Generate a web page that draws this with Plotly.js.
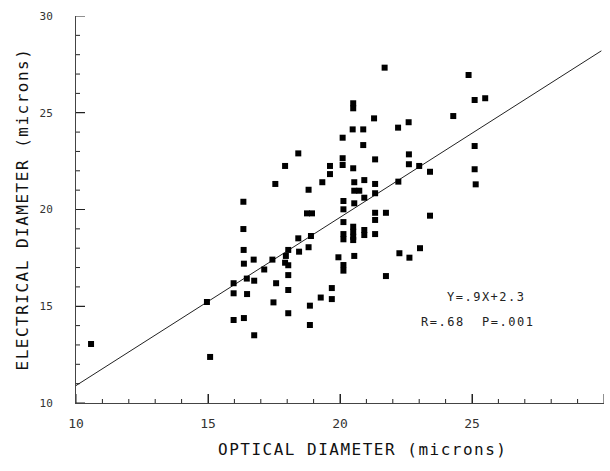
<!DOCTYPE html>
<html>
<head>
<meta charset="utf-8">
<script src="https://cdn.plot.ly/plotly-3.0.1.min.js"></script>
<style>
html,body{margin:0;padding:0;background:#fff;}
#chart{width:610px;height:471px;}
.annotation-text{letter-spacing:1.5px;}
</style>
</head>
<body>
<div id="chart"></div>
<script>
// Optical diameter (microns) of each sample
const opticalDiameter = [
  10.57, 14.96, 15.08, 15.97, 15.97, 15.97, 16.34, 16.34, 16.35, 16.36,
  16.47, 16.48, 16.36, 16.73, 16.75, 16.75, 17.13, 17.44, 17.48, 17.55,
  17.58, 17.92, 17.95, 17.92, 18.04, 18.04, 18.04, 18.04, 18.04, 18.42,
  18.42, 18.45, 18.81, 18.81, 18.75, 18.94, 18.90, 18.86, 18.86, 19.27,
  19.33, 19.62, 19.62, 19.69, 19.69, 19.94, 20.10, 20.10, 20.10, 20.13,
  20.13, 20.13, 20.13, 20.13, 20.13, 20.13, 20.50, 20.50, 20.48, 20.88,
  20.88, 20.50, 20.54, 20.54, 20.73, 20.54, 20.50, 20.50, 20.50, 20.50,
  20.54, 20.92, 20.92, 20.92, 20.92, 21.29, 21.33, 21.33, 21.33, 21.33,
  21.33, 21.33, 21.69, 21.74, 21.74, 22.20, 22.60, 22.21, 22.25, 22.61,
  22.61, 22.63, 23.00, 23.03, 23.41, 23.41, 24.29, 24.87, 25.10, 25.50,
  25.10, 25.10, 25.14
];
// Electrical diameter (microns) of each sample
const electricalDiameter = [
  13.05, 15.22, 12.38, 16.19, 15.67, 14.29, 20.40, 18.99, 17.91, 17.20,
  16.43, 15.63, 14.39, 17.41, 16.32, 13.50, 16.90, 17.41, 15.20, 21.32,
  16.19, 22.25, 17.60, 17.25, 17.91, 17.12, 16.61, 15.84, 14.64, 22.90,
  18.51, 17.82, 21.02, 18.05, 19.80, 19.80, 18.63, 15.03, 14.03, 15.45,
  21.41, 22.25, 21.83, 15.94, 15.37, 17.53, 23.71, 22.65, 22.30, 20.44,
  20.01, 19.35, 18.73, 18.46, 17.13, 16.84, 25.49, 25.23, 24.14, 24.14,
  23.33, 22.13, 21.41, 20.97, 20.97, 20.32, 19.11, 18.85, 18.59, 18.42,
  17.60, 21.52, 20.61, 18.94, 18.68, 24.71, 22.59, 21.32, 20.84, 19.83,
  19.46, 18.73, 27.33, 19.83, 16.56, 24.23, 24.51, 21.44, 17.74, 22.85,
  22.34, 17.51, 22.25, 18.00, 21.95, 19.68, 24.83, 26.95, 25.66, 25.75,
  23.28, 22.08, 21.30
];
// Fitted regression line, as drawn (end points)
const fitX = [10, 29.9];
const fitY = [10.9, 28.2];

// Major tick values / labels
const xTickVals = [10, 15, 20, 25, 30];
const xTickText = ["10", "15", "20", "25", "30"];
const yTickVals = [10, 15, 20, 25, 30];
const yTickText = ["10", "15", "20", "25", "30"];
const minorStep = 1;

const xTitle = "OPTICAL DIAMETER (microns)";
const yTitle = "ELECTRICAL DIAMETER (microns)";
const eqText = "Y=.9X+2.3";
const statText = "R=.68  P=.001";

const mono = "DejaVu Sans Mono, monospace";

const traces = [
  {
    x: fitX, y: fitY, type: "scatter", mode: "lines",
    line: {color: "#222", width: 1},
    hoverinfo: "skip", showlegend: false
  },
  {
    x: opticalDiameter, y: electricalDiameter, type: "scatter", mode: "markers",
    marker: {symbol: "square", size: 6, color: "#000", line: {width: 0}},
    showlegend: false
  }
];

function axisFor(vals, labels, fontSize, standoff) {
  return {
    range: [vals[0], vals[vals.length - 1]],
    showgrid: false, zeroline: false, showline: true,
    ticks: "inside", ticklen: 9, tickcolor: "#222", tickwidth: 1,
    tickmode: "array", tickvals: vals, ticktext: labels,
    tickfont: {family: mono, size: fontSize, color: "#333"},
    ticklabelstandoff: standoff
  };
}

// Tick marks along each axis, placed on the axis scale (drawn in case the
// axis' own inside ticks are hidden)
function minorVals(vals) {
  const out = [];
  for (let v = vals[0] + minorStep; v < vals[vals.length - 1]; v += minorStep) {
    if (vals.indexOf(v) < 0) out.push(v);
  }
  return out;
}
const tickShapes = [];
function addTicks(axis, vals, len) {
  vals.forEach(function (v) {
    if (axis === "x") {
      tickShapes.push({type: "line", xref: "x", yref: "paper", ysizemode: "pixel",
        yanchor: 0, x0: v, x1: v, y0: 0, y1: len, line: {color: "#222", width: 1}});
    } else {
      tickShapes.push({type: "line", yref: "y", xref: "paper", xsizemode: "pixel",
        xanchor: 0, y0: v, y1: v, x0: 0, x1: len, line: {color: "#222", width: 1}});
    }
  });
}
addTicks("x", xTickVals, 9);
addTicks("y", yTickVals, 9);
addTicks("x", minorVals(xTickVals), 4);
addTicks("y", minorVals(yTickVals), 4);

const layout = {
  width: 610, height: 471,
  margin: {l: 76, r: 6, t: 16, b: 68},
  xaxis: axisFor(xTickVals, xTickText, 13, 8),
  yaxis: axisFor(yTickVals, yTickText, 11, 20),
  shapes: tickShapes,
  annotations: [
    {
      text: xTitle, xref: "paper", yref: "paper",
      x: (362 - 76) / 528, y: -(450 - 403) / 387,
      xanchor: "center", yanchor: "middle", showarrow: false,
      font: {family: mono, size: 16, color: "#111"}
    },
    {
      text: yTitle, xref: "paper", yref: "paper",
      x: -(76 - 22) / 528, y: 0.5, textangle: -90,
      xanchor: "center", yanchor: "middle", showarrow: false,
      font: {family: mono, size: 16, color: "#111"}
    },
    {
      text: eqText, xref: "x", yref: "y",
      x: 25.55, y: 15.5, xanchor: "center", yanchor: "middle", showarrow: false,
      font: {family: mono, size: 12, color: "#222"}
    },
    {
      text: statText, xref: "x", yref: "y",
      x: 25.2, y: 14.2, xanchor: "center", yanchor: "middle", showarrow: false,
      font: {family: mono, size: 12, color: "#222"}
    }
  ]
};

Plotly.newPlot("chart", traces, layout, {displayModeBar: false});
</script>
</body>
</html>
